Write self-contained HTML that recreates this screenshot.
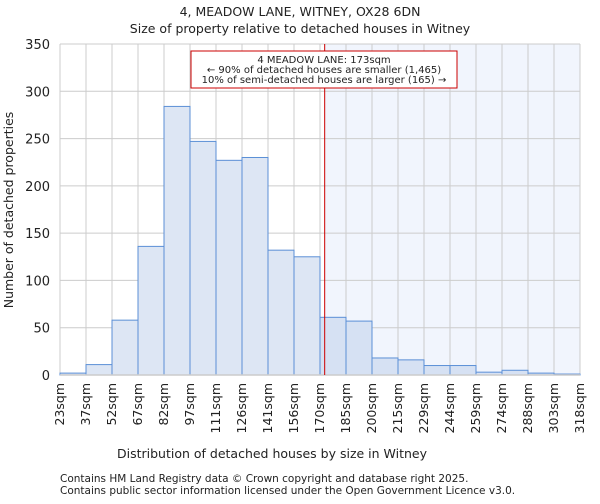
<!DOCTYPE html>
<html><head><meta charset="utf-8"><style>
body{margin:0;background:#fff;font-family:"DejaVu Sans","Liberation Sans",sans-serif;}
svg text{font-family:"DejaVu Sans","Liberation Sans",sans-serif;fill:#222;}
</style></head><body>
<svg id="chart" width="600" height="500">
<text x="300" y="16" text-anchor="middle" font-size="12.5">4, MEADOW LANE, WITNEY, OX28 6DN</text>
<text x="300" y="33" text-anchor="middle" font-size="12.5">Size of property relative to detached houses in Witney</text>
<g id="plot"></g>
<text x="272" y="458" text-anchor="middle" font-size="12.5">Distribution of detached houses by size in Witney</text>
<text transform="translate(13,210) rotate(-90)" text-anchor="middle" font-size="12.5">Number of detached properties</text>
<text x="60" y="482" font-size="10.5">Contains HM Land Registry data © Crown copyright and database right 2025.</text>
<text x="60" y="494" font-size="10.5">Contains public sector information licensed under the Open Government Licence v3.0.</text>
</svg>
<script>
const categories=["23sqm","37sqm","52sqm","67sqm","82sqm","97sqm","111sqm","126sqm","141sqm","156sqm","170sqm","185sqm","200sqm","215sqm","229sqm","244sqm","259sqm","274sqm","288sqm","303sqm","318sqm"];
const counts=[2,11,58,136,284,247,227,230,132,125,61,57,18,16,10,10,3,5,2,1];
const yTicks=[0,50,100,150,200,250,300,350];
const markerBin=10.18;
const ns="http://www.w3.org/2000/svg";
const L=60,R=580,T=44,B=375,yMax=350;
const n=counts.length;
const xs=i=>L+(R-L)*i/n;
const ys=v=>B-(B-T)*v/yMax;
const g=document.getElementById('plot');
function mk(t,a){const e=document.createElementNS(ns,t);for(const k in a)e.setAttribute(k,a[k]);g.appendChild(e);return e;}
const mx=xs(markerBin);
let e=mk('rect',{x:mx,y:T,width:R-mx,height:B-T,fill:'#f1f5fd'});


yTicks.forEach(v=>{
 let l=mk('line',{x1:L,x2:R,y1:ys(v),y2:ys(v),stroke:'#ccc','stroke-width':1});
 
 
 let t=mk('text',{x:L-10,y:ys(v)+5,'text-anchor':'end','font-size':'13'});
 t.textContent=v;
 
 
});
categories.forEach((c,i)=>{
 let l=mk('line',{x1:xs(i),x2:xs(i),y1:T,y2:B,stroke:'#ccc','stroke-width':1});
 
 
 let t=mk('text',{transform:`translate(${xs(i)+4},${B+8}) rotate(-90)`,'text-anchor':'end','font-size':'12.5'});
 t.textContent=c;
 
 
});
counts.forEach((v,i)=>{
 let r=mk('rect',{x:xs(i),y:ys(v),width:xs(i+1)-xs(i),height:B-ys(v),fill:i>=10?'#d6e1f3':'#dde6f4',stroke:'#5b8fd6','stroke-width':1});
 
 
});
let ax=mk('line',{x1:L,x2:R,y1:B,y2:B,stroke:'#ccc','stroke-width':1.5});


let ml=mk('line',{x1:mx,x2:mx,y1:T,y2:B,stroke:'#c00','stroke-width':1});


let box=mk('rect',{x:191,y:51,width:266,height:37,fill:'#fff',stroke:'#c00','stroke-width':1});


["4 MEADOW LANE: 173sqm","← 90% of detached houses are smaller (1,465)","10% of semi-detached houses are larger (165) →"].forEach((s,i)=>{
 let t=mk('text',{x:324,y:63+i*10,'text-anchor':'middle','font-size':'10'});
 t.textContent=s;
 
 
});
</script>
</body></html>
